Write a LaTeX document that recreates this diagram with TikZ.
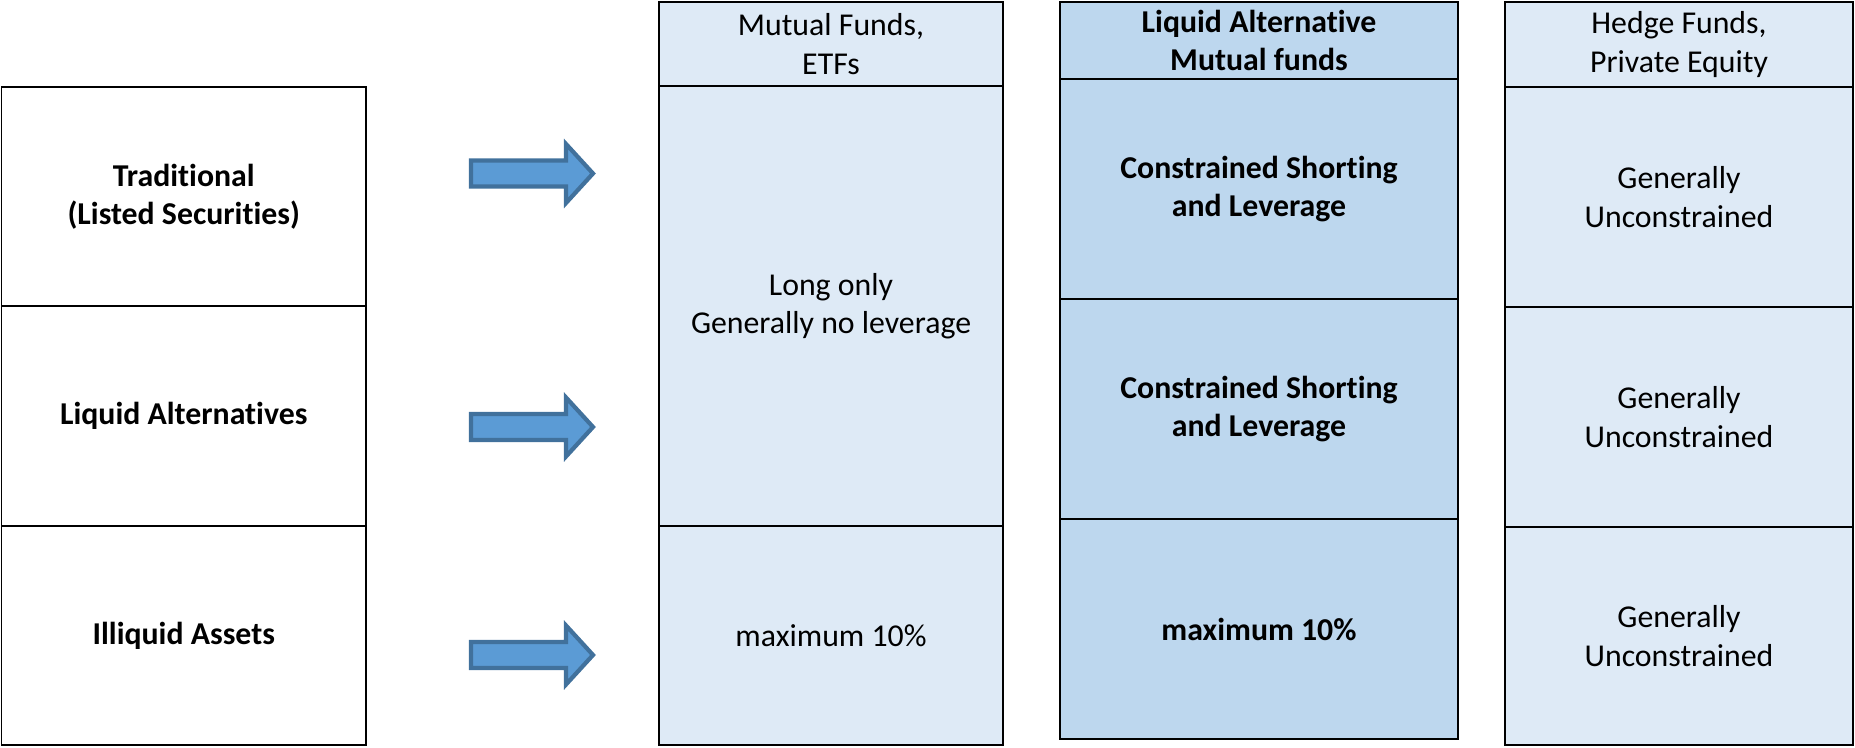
\documentclass[tikz,border=0pt]{standalone}
\usepackage{fontspec}
\setmainfont{Carlito}[Ligatures=NoCommon]
\usepackage{tikz}
\usetikzlibrary{positioning, calc}

\definecolor{paleblue}{HTML}{DEEAF6}
\definecolor{midblue}{HTML}{BDD7EE}
\definecolor{arrowfill}{HTML}{5B9BD5}
\definecolor{arrowline}{HTML}{41719C}

\newcommand{\cellfont}{\fontsize{18.1}{21.8}\selectfont}

\begin{document}
\begin{tikzpicture}[
    cell/.style={draw, line width=1.1pt, inner sep=0pt, align=center, font=\cellfont},
    plaincell/.style={cell, fill=white},
    palecell/.style={cell, fill=paleblue},
    deepcell/.style={cell, fill=midblue, font=\cellfont\bfseries},
    blockarrow/.style={draw=arrowline, fill=arrowfill, line width=2.4pt, line join=miter}
]
    \useasboundingbox (0,0) rectangle (37.1,14.94);

    % Left column: asset classes
    \node[plaincell, font=\cellfont\bfseries, minimum width=7.29cm, minimum height=4.38cm] (trad) at (3.675,11.01) {Traditional\\(Listed Securities)};
    \node[plaincell, font=\cellfont\bfseries, minimum width=7.29cm, minimum height=4.40cm] (liq) at (3.675,6.62) {Liquid Alternatives};
    \node[plaincell, font=\cellfont\bfseries, minimum width=7.29cm, minimum height=4.38cm] (illiq) at (3.675,2.23) {Illiquid Assets};

    % Arrows
    \foreach \y in {11.47, 6.40, 1.84}
        \draw[blockarrow] (9.42,\y-0.26) -- (11.32,\y-0.26) -- (11.32,\y-0.59) -- (11.86,\y)
            -- (11.32,\y+0.59) -- (11.32,\y+0.26) -- (9.42,\y+0.26) -- cycle;

    % Mutual funds, ETFs
    \node[palecell, minimum width=6.88cm, minimum height=1.68cm] (mfhead) at (16.62,14.06) {Mutual Funds,\\ETFs};
    \node[palecell, minimum width=6.88cm, minimum height=8.80cm] (mfbody) at (16.62,8.82) {Long only\\Generally no leverage};
    \node[palecell, minimum width=6.88cm, minimum height=4.38cm] (mfmax) at (16.62,2.23) {maximum 10\%};

    % Liquid alternative mutual funds
    \node[deepcell, minimum width=7.96cm, minimum height=1.54cm] (lahead) at (25.18,14.13) {Liquid Alternative\\Mutual funds};
    \node[deepcell, minimum width=7.96cm, minimum height=4.40cm] (laone) at (25.18,11.16) {Constrained Shorting\\and Leverage};
    \node[deepcell, minimum width=7.96cm, minimum height=4.40cm] (latwo) at (25.18,6.76) {Constrained Shorting\\and Leverage};
    \node[deepcell, minimum width=7.96cm, minimum height=4.40cm] (lamax) at (25.18,2.36) {maximum 10\%};

    % Hedge funds, private equity
    \node[palecell, minimum width=6.96cm, minimum height=1.70cm] (hfhead) at (33.58,14.05) {Hedge Funds,\\Private Equity};
    \node[palecell, minimum width=6.96cm, minimum height=4.40cm] (hfone) at (33.58,11.00) {Generally\\Unconstrained};
    \node[palecell, minimum width=6.96cm, minimum height=4.40cm] (hftwo) at (33.58,6.60) {Generally\\Unconstrained};
    \node[palecell, minimum width=6.96cm, minimum height=4.36cm] (hfthree) at (33.58,2.22) {Generally\\Unconstrained};
\end{tikzpicture}
\end{document}
